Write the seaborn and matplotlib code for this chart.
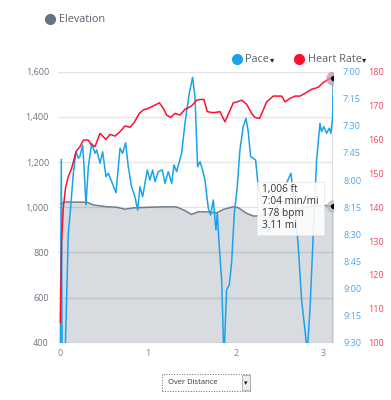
import pandas as pd
import seaborn as sns
import matplotlib.pyplot as plt
from matplotlib.patches import Rectangle
from matplotlib.lines import Line2D

sns.set_style('white')
plt.rcParams['font.family'] = ['Open Sans', 'DejaVu Sans']

# elevation (ft) over distance (mi)
elev_mi = [0.0, 0.053, 0.3, 0.376, 0.528, 0.642, 0.737, 0.831, 1.021, 1.211, 1.325, 1.42, 1.496,
           1.572, 1.686, 1.781, 1.856, 1.97, 2.027, 2.122, 2.198, 2.236, 2.4, 2.6, 2.8, 2.95, 3.11]
elev_ft = [1014, 1023, 1022, 1010, 1002, 1000, 991, 997, 1000, 1002, 1001, 985, 968,
           980, 979, 975, 990, 1002, 998, 973, 961, 961, 968, 985, 1000, 1008, 1006]

# heart rate (bpm)
hr_mi = [0.0, 0.015, 0.034, 0.061, 0.091, 0.129, 0.178, 0.224, 0.262, 0.319, 0.345, 0.395, 0.452,
         0.52, 0.566, 0.623, 0.68, 0.737, 0.793, 0.839, 0.9, 0.945, 1.002, 1.059, 1.128, 1.173,
         1.211, 1.257, 1.306, 1.363, 1.42, 1.496, 1.553, 1.591, 1.636, 1.674, 1.743, 1.819, 1.876,
         1.932, 1.97, 2.016, 2.065, 2.122, 2.179, 2.217, 2.27, 2.312, 2.35, 2.426, 2.521, 2.559,
         2.616, 2.673, 2.73, 2.787, 2.863, 2.939, 2.995, 3.071, 3.11]
hr_bpm = [105.9, 130.3, 140, 146, 149, 151.5, 156.4, 157.9, 159.8, 159.8, 158.7, 157.9, 161.8,
          160, 161.5, 161, 162.3, 164, 163.6, 164.9, 167.7, 168.7, 169.2, 169.9, 170.8, 169.2,
          167.2, 166.5, 167.7, 167.2, 168.9, 169.9, 171.6, 171.8, 171.8, 168.2, 167.9, 168.2, 165.2,
          168.5, 170.8, 171.1, 171.6, 170.4, 167.7, 166.5, 166.2, 168.7, 171.1, 172.8, 172.8, 171.1,
          172.1, 172.8, 172.8, 173.6, 174.8, 175.4, 176.8, 178, 178]

# pace (seconds per mile)
pace_mi = [0.0, 0.011, 0.02, 0.053, 0.091, 0.118, 0.148, 0.178, 0.205, 0.224, 0.254, 0.27, 0.292,
           0.319, 0.357, 0.395, 0.414, 0.452, 0.482, 0.52, 0.547, 0.585, 0.634, 0.68, 0.71, 0.744,
           0.774, 0.812, 0.85, 0.881, 0.907, 0.938, 0.964, 0.991, 1.021, 1.052, 1.078, 1.116, 1.162,
           1.192, 1.23, 1.268, 1.295, 1.325, 1.382, 1.42, 1.469, 1.507, 1.534, 1.564, 1.591, 1.621,
           1.648, 1.686, 1.712, 1.743, 1.773, 1.788, 1.811, 1.838, 1.864, 1.894, 1.925, 1.951, 1.982,
           2.016, 2.046, 2.084, 2.115, 2.141, 2.168, 2.198, 2.225, 2.255, 2.369, 2.502, 2.627, 2.673,
           2.711, 2.749, 2.787, 2.813, 2.844, 2.882, 2.92, 2.958, 2.976, 3.003, 3.033, 3.064, 3.083,
           3.102, 3.11]
pace_sec = [575, 468.5, 580, 580, 509.5, 494.7, 476.2, 464.3, 467.9, 466.7, 460.6, 472.6, 493.8,
            472.6, 459.6, 465.2, 463.3, 470.7, 464.3, 478.1, 476.2, 480.9, 487, 462.4, 465.2, 459.3,
            472.6, 483.7, 489.2, 496.6, 483.7, 489.2, 481.8, 474.4, 480, 474.4, 480.9, 475.3, 474.4,
            481.8, 475.3, 481.8, 471.6, 475.3, 465.2, 448.6, 432, 423.1, 433.8, 472.6, 469.8, 474.4,
            480, 495.6, 499.3, 491, 507.6, 498.4, 516.9, 535.3, 580, 540.8, 538, 526, 498.4,
            483.7, 463.3, 450.4, 445.8, 453.2, 467, 467.9, 468.9, 483.7, 508.6, 490, 476.2, 494.7,
            516.9, 546.4, 563, 575, 551.9, 509.5, 468.9, 448.6, 453.2, 450.4, 454.1, 451.3, 454.1,
            445, 424]

elev_ticks = [400, 600, 800, 1000, 1200, 1400, 1600]
elev_labels = ['400', '600', '800', '1,000', '1,200', '1,400', '1,600']
pace_ticks = [420, 435, 450, 465, 480, 495, 510, 525, 540, 555, 570]
pace_labels = ['7:00', '7:15', '7:30', '7:45', '8:00', '8:15', '8:30', '8:45', '9:00', '9:15', '9:30']
hr_ticks = [100, 110, 120, 130, 140, 150, 160, 170, 180]
dist_ticks = [0, 1, 2, 3]
tip_lines = ['1,006 ft', '7:04 min/mi', '178 bpm', '3.11 mi']

elev = pd.DataFrame({'mi': elev_mi, 'ft': elev_ft})
hr = pd.DataFrame({'mi': hr_mi, 'bpm': hr_bpm})
pace = pd.DataFrame({'mi': pace_mi, 'sec': pace_sec})

blue = '#1aa3ec'
red = '#ff1030'
W, H = 391, 400

fig = plt.figure(figsize=(3.91, 4.0), dpi=100)
ax = fig.add_axes([57.7 / W, 1 - 342.7 / H, (333.3 - 57.7) / W, 271 / H])

ax.fill_between(elev['mi'], elev['ft'], 400, color='#d8dce0', lw=0, zorder=1)
for t in elev_ticks:
    ax.axhline(t, color='black', alpha=0.1, lw=1, zorder=2)
sns.lineplot(data=elev, x='mi', y='ft', ax=ax, color='#6f7e8c', lw=1.1, zorder=3)
ax.set_xlim(-0.03, 3.11)
ax.set_ylim(400, 1600)
ax.set_yticks(elev_ticks, elev_labels)
ax.set_xticks(dist_ticks)
ax.tick_params(axis='y', length=0, pad=6.3, labelsize=6.5, colors='#6b7480')
ax.tick_params(axis='x', length=0, pad=4.5, labelsize=6.5, colors='#80868d')
ax.set_xlabel('')
ax.set_ylabel('')
sns.despine(ax=ax, left=True, bottom=True)
ax.axvline(3.11, color='#555555', lw=1, zorder=4)
ax.scatter([3.11], [1006], s=90, color='#b4b9be', alpha=0.7, zorder=5, lw=0)
ax.scatter([3.11], [1006], s=14, color='black', zorder=6, lw=0)

ax2 = ax.twinx()
sns.lineplot(data=pace, x='mi', y='sec', ax=ax2, color=blue, lw=1.1, sort=False)
ax2.set_ylim(570, 420)
ax2.set_yticks(pace_ticks, pace_labels)
ax2.tick_params(axis='y', length=0, pad=7, labelsize=6.5, colors='#4ea5e8')
ax2.set_ylabel('')

ax3 = ax.twinx()
sns.lineplot(data=hr, x='mi', y='bpm', ax=ax3, color=red, lw=1.1)
ax3.set_ylim(100, 180)
ax3.set_yticks(hr_ticks)
ax3.tick_params(axis='y', length=0, pad=25, labelsize=6.5, colors='#f2445e')
ax3.set_ylabel('')
ax3.scatter([3.11], [178], s=110, color='#c890b8', alpha=0.75, zorder=5, lw=0)
ax3.scatter([3.11], [178], s=14, color='black', zorder=6, lw=0)
for a in (ax2, ax3):
    for s in a.spines.values():
        s.set_visible(False)
ax3.set_xlim(-0.03, 3.11)

# tooltip
fig.add_artist(Rectangle((257 / W, 1 - 235 / H), 67 / W, 53 / H, transform=fig.transFigure,
                         facecolor='white', alpha=0.88, edgecolor='#e6e6e6', lw=0.6, zorder=5))
for i, line in enumerate(tip_lines):
    fig.text(262 / W, 1 - (189.3 + 12 * i) / H, line, fontsize=7.3, color='#333333',
             va='center', ha='left', zorder=6)

# legends
def legend_item(x, y, color, label, arrow):
    fig.add_artist(Line2D([x / W], [1 - y / H], marker='o', ms=7, color=color,
                          transform=fig.transFigure))
    fig.text((x + 8.5) / W, 1 - y / H, label, fontsize=7.8, color='#5a626b', va='center', ha='left')
    if arrow:
        fig.text(arrow / W, 1 - (y + 0.5) / H, '\u25be', fontsize=6, color='#222222',
                 va='center', ha='left', family='DejaVu Sans')

legend_item(50, 19, '#617384', 'Elevation', None)
legend_item(237, 59.3, '#1aa3ec', 'Pace', 270)
legend_item(299, 59.3, '#ff1030', 'Heart Rate', 362)

# dropdown
fig.add_artist(Rectangle((162 / W, 1 - 391 / H), 88 / W, 17 / H, transform=fig.transFigure,
                         facecolor='white', edgecolor='#666666', lw=0.7, ls=':'))
fig.add_artist(Rectangle((242 / W, 1 - 390 / H), 7.5 / W, 15 / H, transform=fig.transFigure,
                         facecolor='#eeeeee', edgecolor='#999999', lw=0.5))
fig.text(168 / W, 1 - 383 / H, 'Over Distance', fontsize=5.5, color='#333333', va='center')
fig.text(245.7 / W, 1 - 383 / H, '\u25be', fontsize=5, color='#111111', va='center',
         ha='center', family='DejaVu Sans')

fig.savefig('out.png', dpi=100)
